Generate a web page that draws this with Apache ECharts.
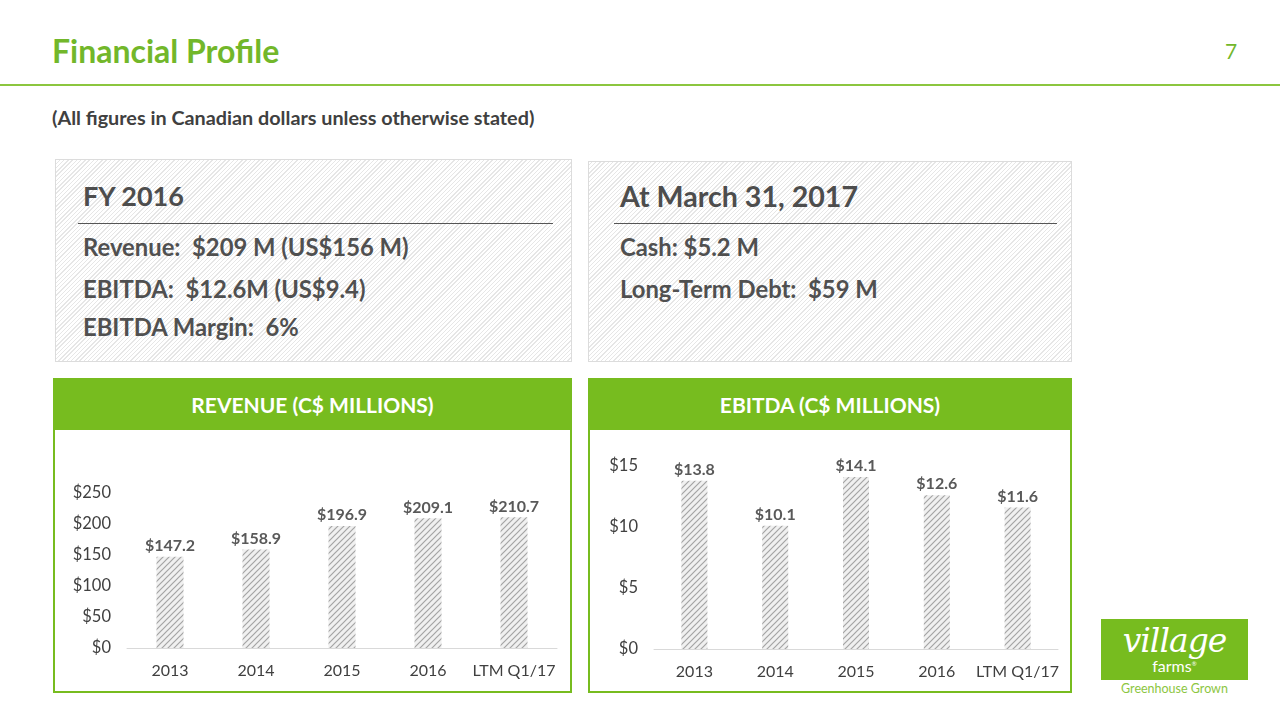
<!DOCTYPE html>
<html>
<head>
<meta charset="utf-8">
<script src="https://cdn.jsdelivr.net/npm/echarts@6/dist/echarts.min.js"></script>
<style>
  html, body { margin:0; padding:0; width:1280px; height:720px; background:#fff; overflow:hidden; font-family: Lato, "Open Sans", sans-serif; }
  .abs { position:absolute; line-height:1.2; white-space:nowrap; }
  #title { left:52px; top:32px; font-size:32px; font-weight:700; color:#72b72a; }
  #pagenum { left:1225px; top:38px; font-size:21px; color:#72b72a; }
  #topline { left:0; top:84px; width:1280px; height:2px; background:#8cc63f; }
  #sub { left:52px; top:106px; font-size:19.8px; font-weight:700; color:#404040; }
  .box { border:1px solid #dcdcdc; box-sizing:border-box;
         background: repeating-linear-gradient(-45deg, #ffffff 0px, #ffffff 2px, #e6e6e6 2px, #e6e6e6 3px); }
  .boxhead { font-size:27px; font-weight:700; color:#4d4d4d; }
  .boxline { height:1px; background:#555; }
  .boxtxt { font-size:23.8px; font-weight:700; color:#505050; }
  .panel { border:2px solid #77bc1f; box-sizing:border-box; background:#fff; }
  .phead { background:#77bc1f; color:#fff; font-size:21px; font-weight:700; text-align:center; line-height:50px; height:50px; }
  #chart { left:0; top:0; width:1280px; height:720px; z-index:2; }
  #logo { left:1101px; top:619px; width:147px; height:61px; background:#77bc1f; color:#fff; text-align:center; }
  #logo .v { position:absolute; left:0; width:147px; top:2px; font-size:33px; font-style:italic; font-family:"DejaVu Serif", serif; letter-spacing:-1px; }
  #logo .f { position:absolute; left:0; width:147px; top:37px; font-size:16px; }
  #gg { left:1101px; top:681px; width:147px; text-align:center; font-size:12.5px; color:#8cc63f; }
</style>
</head>
<body>
<div id="title" class="abs">Financial Profile</div>
<div id="pagenum" class="abs">7</div>
<div id="topline" class="abs"></div>
<div id="sub" class="abs">(All figures in Canadian dollars unless otherwise stated)</div>

<div class="abs box" style="left:55px;top:159px;width:517px;height:203px;"></div>
<div class="abs boxhead" style="left:83px;top:180px;">FY 2016</div>
<div class="abs boxline" style="left:78px;top:223px;width:475px;"></div>
<div class="abs boxtxt" style="left:83px;top:233px;">Revenue:&nbsp; $209 M (US$156 M)</div>
<div class="abs boxtxt" style="left:83px;top:275px;">EBITDA:&nbsp; $12.6M (US$9.4)</div>
<div class="abs boxtxt" style="left:83px;top:313px;">EBITDA Margin:&nbsp; 6%</div>

<div class="abs box" style="left:588px;top:161px;width:484px;height:201px;"></div>
<div class="abs boxhead" style="left:620px;top:180px;font-size:28.6px;top:179px;">At March 31, 2017</div>
<div class="abs boxline" style="left:614px;top:223px;width:443px;"></div>
<div class="abs boxtxt" style="left:620px;top:233px;">Cash: $5.2 M</div>
<div class="abs boxtxt" style="left:620px;top:275px;">Long-Term Debt:&nbsp; $59 M</div>

<div class="abs panel" style="left:53px;top:378px;width:519px;height:315px;"><div class="phead">REVENUE (C$ MILLIONS)</div></div>
<div class="abs panel" style="left:588px;top:378px;width:484px;height:315px;"><div class="phead">EBITDA (C$ MILLIONS)</div></div>

<div id="logo" class="abs"><div class="v">village</div><div class="f">farms<sup style="font-size:6px">®</sup></div></div>
<div id="gg" class="abs">Greenhouse Grown</div>

<div id="chart" class="abs"></div>
<script>
const categories = ['2013', '2014', '2015', '2016', 'LTM Q1/17'];
const revenueValues = [147.2, 158.9, 196.9, 209.1, 210.7];
const ebitdaValues = [13.8, 10.1, 14.1, 12.6, 11.6];
const revenueAxis = { min: 0, max: 250, interval: 50 };
const ebitdaAxis = { min: 0, max: 15, interval: 5 };

function hatch() {
  const c = document.createElement('canvas');
  c.width = 6; c.height = 6;
  const g = c.getContext('2d');
  g.fillStyle = '#f0f0f0';
  g.fillRect(0, 0, 6, 6);
  g.strokeStyle = '#a4a4a4';
  g.lineWidth = 1.2;
  g.beginPath();
  g.moveTo(-1, 7); g.lineTo(7, -1);
  g.moveTo(-1, 1); g.lineTo(1, -1);
  g.moveTo(5, 7); g.lineTo(7, 5);
  g.stroke();
  return c;
}
const pat = { image: hatch(), repeat: 'repeat' };
const FONT = 'Lato, "Open Sans", sans-serif';

function xAx(gi) {
  return {
    type: 'category', gridIndex: gi, data: categories,
    axisLine: { lineStyle: { color: '#d9d9d9', width: 1 } },
    axisTick: { show: false },
    axisLabel: { color: '#404040', fontSize: 16, fontFamily: FONT, margin: 15, interval: 0 }
  };
}
function yAx(gi, a) {
  return {
    type: 'value', gridIndex: gi, min: a.min, max: a.max, interval: a.interval,
    splitLine: { show: false }, axisLine: { show: false }, axisTick: { show: false },
    axisLabel: { color: '#404040', fontSize: 16.5, fontFamily: FONT, margin: 16, formatter: v => '$' + v }
  };
}
function bars(gi, vals, w) {
  return {
    type: 'bar', xAxisIndex: gi, yAxisIndex: gi, data: vals, barWidth: w,
    itemStyle: { color: pat },
    label: { show: true, position: 'top', distance: 3, color: '#595959', fontSize: 16, fontWeight: 'bold', fontFamily: FONT,
             formatter: p => '$' + p.value.toFixed(1) },
    silent: true
  };
}

const chart = echarts.init(document.getElementById('chart'), null, { renderer: 'canvas' });
chart.setOption({
  animation: false,
  grid: [
    { left: 127, width: 430, top: 493, height: 155 },
    { left: 654, width: 404, top: 466, height: 183 }
  ],
  xAxis: [xAx(0), xAx(1)],
  yAxis: [yAx(0, revenueAxis), yAx(1, ebitdaAxis)],
  series: [bars(0, revenueValues, 27), bars(1, ebitdaValues, 26)]
});
</script>
</body>
</html>
